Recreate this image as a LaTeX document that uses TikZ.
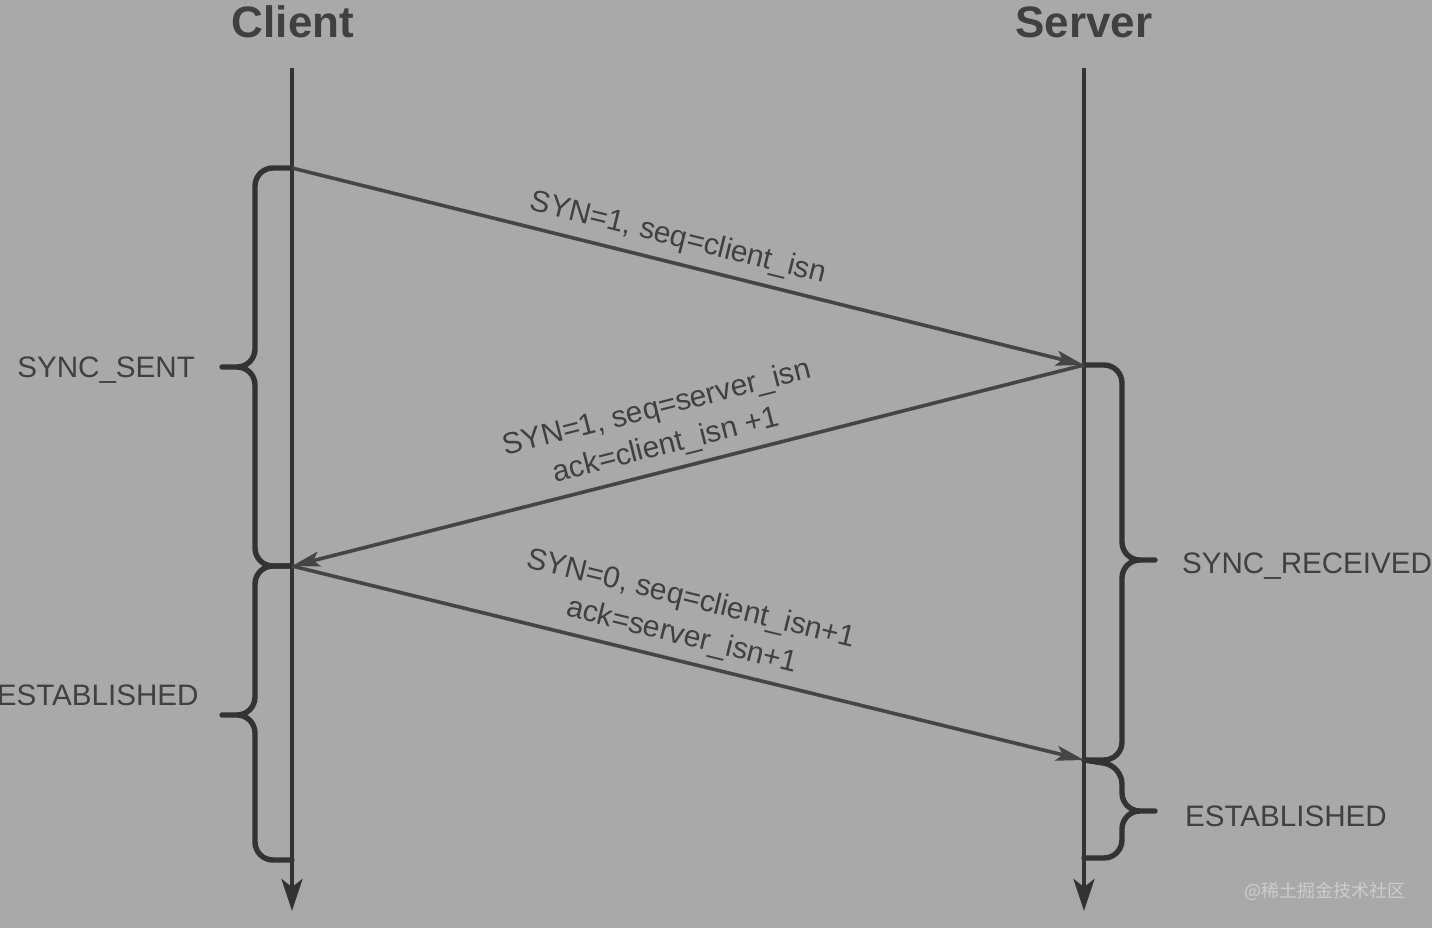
\documentclass[tikz,border=0pt]{standalone}
\usepackage{fontspec}
\setmainfont{Liberation Sans}
\newfontfamily\cjk{Noto Sans CJK SC}
\usepackage{xcolor}
\usepackage{tikz}
\usetikzlibrary{arrows.meta}
\definecolor{bg}{HTML}{A9A9A9}
\definecolor{ink}{HTML}{333333}
\definecolor{msgink}{HTML}{454545}
\definecolor{txt}{HTML}{404040}
\definecolor{wm}{HTML}{CDCDCD}

\begin{document}
\begin{tikzpicture}[
x=0.5pt,y=-0.5pt,
life/.style={draw=ink,line width=1.6pt,-{Stealth[length=16pt,width=10.5pt,inset=4pt]}},
msg/.style={draw=msgink,line width=1.8pt,-{Stealth[length=14pt,width=7.5pt,inset=3pt]}},
brace/.style={draw=ink,line width=2.7pt,rounded corners=9pt,line cap=round},
lbl/.style={font=\fontsize{15}{19}\selectfont,text=txt,sloped,above=1pt,align=center},
state/.style={font=\fontsize{14.8}{17}\selectfont,text=txt},
title/.style={font=\bfseries\fontsize{22}{26}\selectfont,text=txt}
]
\useasboundingbox (0,0) rectangle (1432,928);
\fill[bg] (0,0) rectangle (1432,928);
\node[title] (client) at (293,22) {Client};
\node[title] (server) at (1084,22) {Server};
% lifelines
\coordinate (ctop) at (292,68);
\coordinate (cend) at (292,911);
\coordinate (stop) at (1084,68);
\coordinate (send) at (1084,911);
\draw[life] (ctop) -- (cend);
\draw[life] (stop) -- (send);
% events
\coordinate (c1) at (292,168);
\coordinate (s1) at (1084,365);
\coordinate (c2) at (292,566);
\coordinate (s2) at (1084,760);
% states
\node[state,anchor=east] (sent) at (202,370) {SYNC\_SENT};
\node[state,anchor=east,inner xsep=0pt] (cest) at (199,695) {ESTABLISHED};
\node[state,anchor=west] (rcvd) at (1175,566) {SYNC\_RECEIVED};
\node[state,anchor=west] (sest) at (1178,816) {ESTABLISHED};
\draw[brace] (c1) -- (255,168) -- (255,367) -- (222,367)
  (222,367) -- (255,367) -- (255,566) -- (c2);
\draw[brace] (c2) -- (255,566) -- (255,715) -- (222,715)
  (222,715) -- (255,715) -- (255,860) -- (292,860);
\draw[brace] (s1) -- (1122,365) -- (1122,560) -- (1155,560)
  (1155,560) -- (1122,560) -- (1122,760) -- (s2);
\draw[brace] (s2) -- (1122,766) -- (1122,811) -- (1155,811)
  (1155,811) -- (1122,811) -- (1122,858) -- (1084,858);
% messages
\draw[msg] (c1) -- node[lbl,pos=0.48] {SYN=1, seq=client\_isn} (s1);
\draw[msg] (s1) -- node[lbl,pos=0.52] {SYN=1, seq=server\_isn\\ack=client\_isn +1} (c2);
\draw[msg] (c2) -- node[lbl,pos=0.485] {SYN=0, seq=client\_isn+1\\ack=server\_isn+1} (s2);
\node[font=\cjk\fontsize{9}{11}\selectfont,text=wm] (mark) at (1325,891) {@稀土掘金技术社区};
\end{tikzpicture}
\end{document}
